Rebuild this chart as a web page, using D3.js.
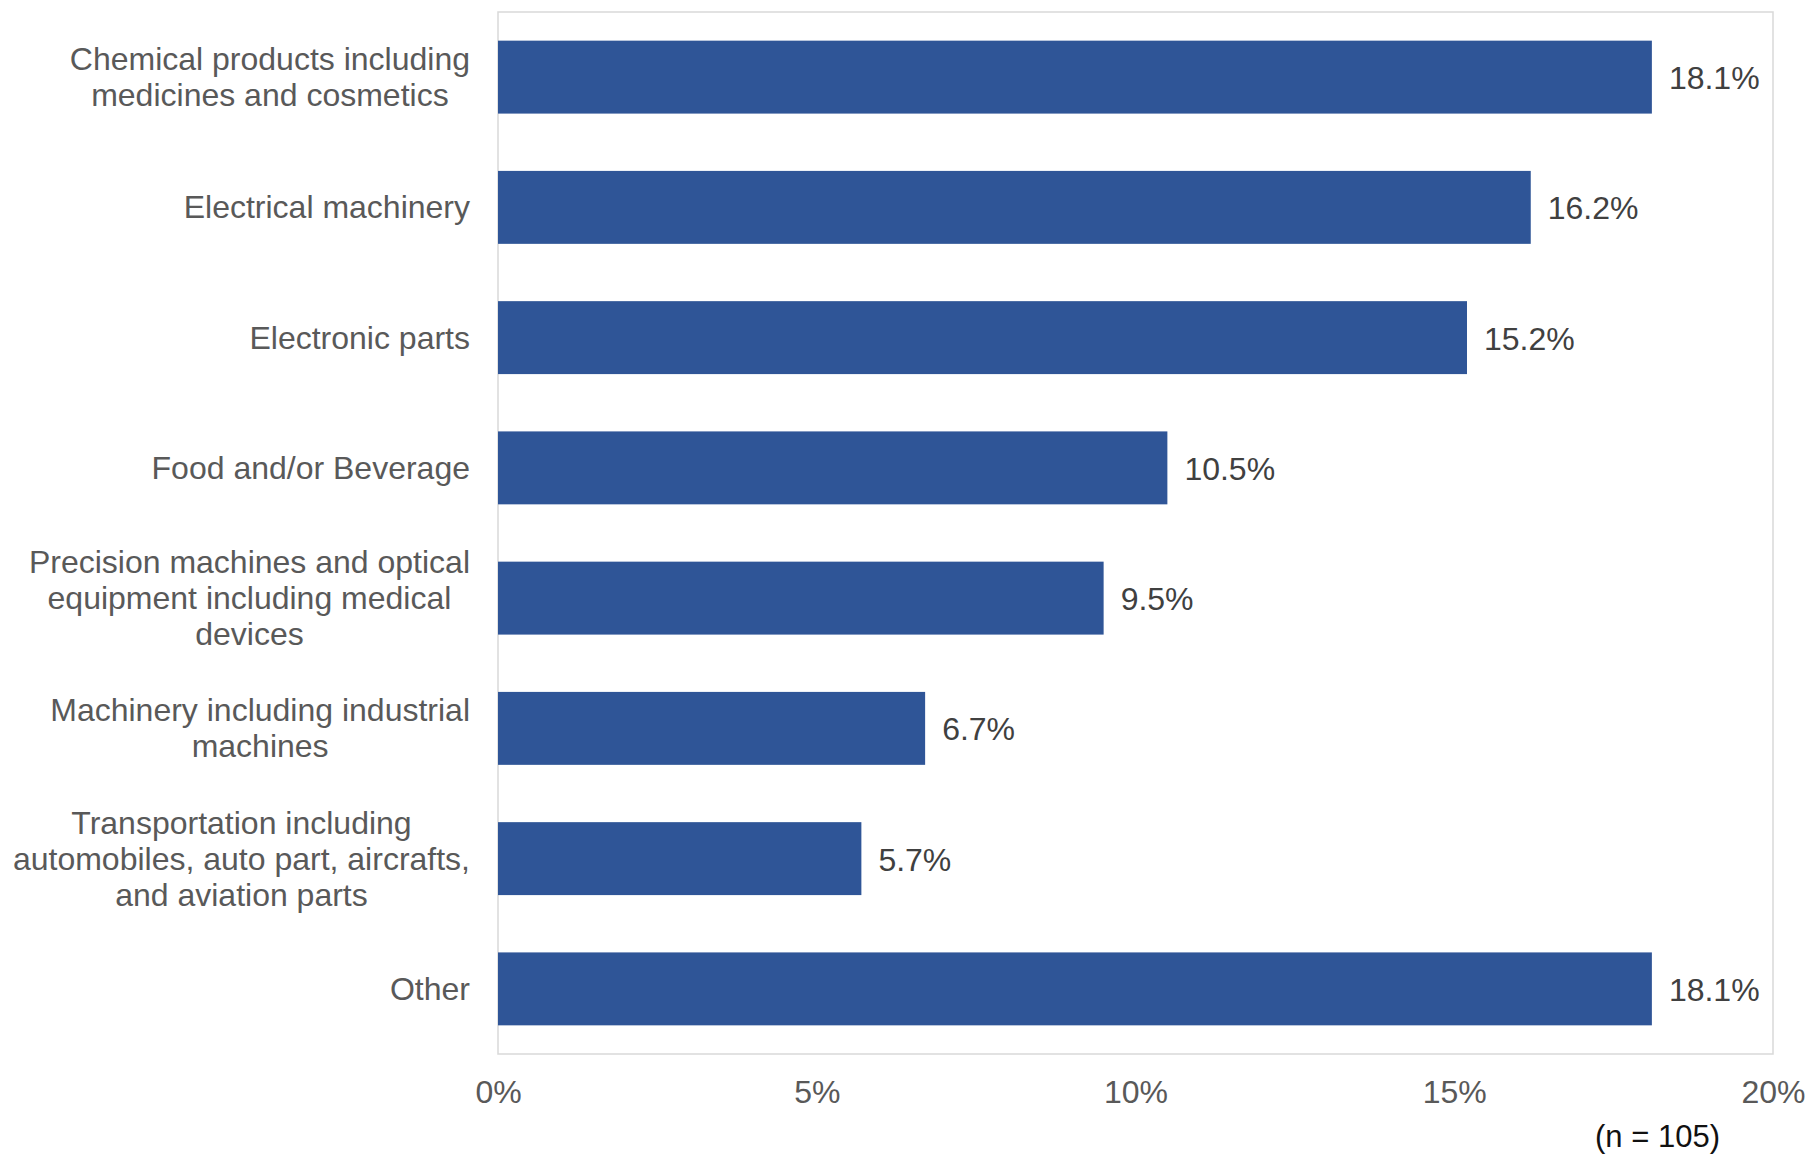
<!DOCTYPE html>
<html>
<head>
<meta charset="utf-8">
<script src="https://cdn.jsdelivr.net/npm/d3@7"></script>
<style>
  body { margin: 0; background: #fff; }
  svg text { font-family: "Liberation Sans", Arial, sans-serif; }
</style>
</head>
<body>
<div id="chart"></div>
<script>
const categories = [
  "Chemical products including\nmedicines and cosmetics",
  "Electrical machinery",
  "Electronic parts",
  "Food and/or Beverage",
  "Precision machines and optical\nequipment including medical\ndevices",
  "Machinery including industrial\nmachines",
  "Transportation including\nautomobiles, auto part, aircrafts,\nand aviation parts",
  "Other"
];
const shares = [18.1, 16.2, 15.2, 10.5, 9.5, 6.7, 5.7, 18.1];
const xTicks = [0, 5, 10, 15, 20];
const note = "(n = 105)";

const W = 1810, H = 1158;
const margin = { top: 12, right: 37, bottom: 104, left: 498 };
const width = W - margin.left - margin.right;
const height = H - margin.top - margin.bottom;

const svg = d3.select("#chart").append("svg")
  .attr("width", W)
  .attr("height", H);

const g = svg.append("g")
  .attr("transform", `translate(${margin.left},${margin.top})`);

const x = d3.scaleLinear().domain([0, 20]).range([0, width]);
const y = d3.scaleBand().domain(categories).range([0, height]).paddingInner(0.44).paddingOuter(0.22);

// plot border
g.append("rect")
  .attr("width", width)
  .attr("height", height)
  .attr("fill", "none")
  .attr("stroke", "#d9d9d9")
  .attr("stroke-width", 1.5);

g.selectAll(".bar")
  .data(categories)
  .join("rect")
  .attr("class", "bar")
  .attr("x", 0)
  .attr("y", d => y(d))
  .attr("width", (d, i) => x(shares[i]))
  .attr("height", y.bandwidth())
  .attr("fill", "#2F5597");

// value labels
g.selectAll(".val")
  .data(categories)
  .join("text")
  .attr("class", "val")
  .attr("x", (d, i) => x(shares[i]) + 17)
  .attr("y", d => y(d) + y.bandwidth() / 2 + 12)
  .attr("font-size", 32)
  .attr("fill", "#404040")
  .text((d, i) => shares[i].toFixed(1) + "%");

// x axis
const xAxis = g.append("g")
  .attr("transform", `translate(0,${height})`)
  .call(d3.axisBottom(x).tickValues(xTicks).tickFormat(d => d + "%").tickSize(0).tickPadding(26));
xAxis.select(".domain").remove();
xAxis.selectAll("text")
  .attr("font-size", 32)
  .attr("font-family", "Liberation Sans, Arial, sans-serif")
  .attr("fill", "#595959");

// category labels, wrapped lines centred in a block right-aligned to the axis
const lineH = 36;
const labels = g.selectAll(".cat")
  .data(categories)
  .join("g")
  .attr("class", "cat");

labels.each(function (d) {
  const lines = d.split("\n");
  const grp = d3.select(this);
  const cy = y(d) + y.bandwidth() / 2;
  const texts = grp.selectAll("text")
    .data(lines)
    .join("text")
    .attr("font-size", 32)
    .attr("fill", "#595959")
    .attr("text-anchor", "middle")
    .attr("y", (l, i) => cy + (i - (lines.length - 1) / 2) * lineH + 11)
    .text(l => l);
  let maxW = 0;
  texts.each(function () { maxW = Math.max(maxW, this.getComputedTextLength()); });
  texts.attr("x", -28 - maxW / 2);
});

svg.append("text")
  .attr("x", 1720)
  .attr("y", 1147)
  .attr("text-anchor", "end")
  .attr("font-size", 31)
  .attr("fill", "#111")
  .text(note);
</script>
</body>
</html>
